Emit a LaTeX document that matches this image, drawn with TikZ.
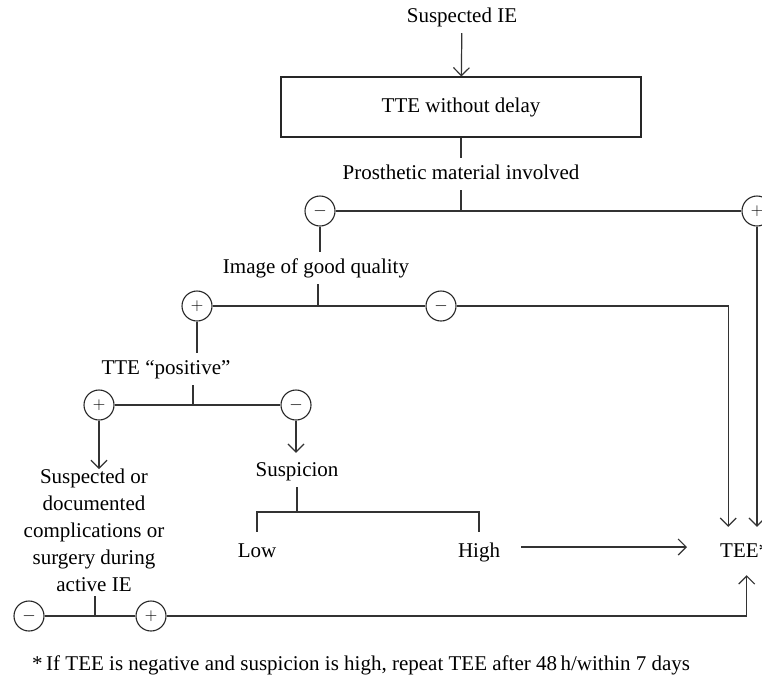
\documentclass[tikz,border=0pt]{standalone}
\usepackage{fontspec}
\setmainfont{Liberation Serif}
\usetikzlibrary{arrows.meta}
\begin{document}
\begin{tikzpicture}[x=1pt,y=-1pt,
  txt/.style={font=\fontsize{21}{27}\selectfont, inner xsep=0pt, inner ysep=7pt, text height=14pt, text depth=4pt},
  ln/.style={draw=black!80, line width=1.2pt},
  arr/.style={ln, -{Straight Barb[length=8pt,width=16pt]}},
  sgn/.style={circle, draw=black!85, line width=1.1pt, minimum size=30pt, inner sep=0pt, font=\fontsize{18}{18}\selectfont}]
\useasboundingbox (0,0) rectangle (762,678);

% nodes
\node[txt] (susp) at (462,17) {Suspected IE};
\node[txt, draw=black!85, line width=1.1pt, minimum width=360pt, minimum height=60pt, inner ysep=0pt] (box) at (461,107) {TTE without delay};
\node[txt] (prost) at (461,174) {Prosthetic material involved};
\node[sgn] (pm1) at (320,211) {$-$};
\node[sgn] (pp1) at (757,211) {$+$};
\node[txt] (img) at (316,268) {Image of good quality};
\node[sgn] (ip) at (197,306) {$+$};
\node[sgn] (im) at (441,306) {$-$};
\node[txt] (pos) at (166,369) {TTE “positive”};
\node[sgn] (tp) at (99,405) {$+$};
\node[sgn] (tm) at (296,405) {$-$};
\node[font=\fontsize{21}{27}\selectfont, align=center, inner sep=0pt, anchor=north] (compl) at (94,469)
  {Suspected or\\documented\\complications or\\surgery during\\active IE};
\node[txt] (suspn) at (297,471) {Suspicion};
\node[txt, inner ysep=11pt] (low) at (257,552) {Low};
\node[txt, inner ysep=11pt] (high) at (479,552) {High};
\node[txt, anchor=west] (tee) at (720,552) {TEE*};
\node[sgn] (bm) at (29,616) {$-$};
\node[sgn] (bp) at (151,616) {$+$};
\node[txt, anchor=west] (fn) at (32,665) {*\,If TEE is negative and suspicion is high, repeat TEE after 48\,h/within 7 days};

\coordinate (j1) at (461,211);
\coordinate (j2) at (318,306);
\coordinate (j3) at (193,405);
\coordinate (j4) at (297,512);
\coordinate (j5) at (95,616);

% connectors
\draw[arr] (susp) -- (box);
\draw[ln] (box) -- (prost);
\draw[ln] (prost.south) -- (j1);
\draw[ln] (pm1) -- (pp1);
\draw[ln] (pm1) -- (pm1 |- img.north);
\draw[ln] (img.south -| j2) -- (j2);
\draw[ln] (ip) -- (im);
\draw[arr, shorten >=9pt] (im) -| ([xshift=-16.5pt]tee.north);
\draw[arr, shorten >=9pt] (pp1) -- (pp1 |- tee.north);
\draw[ln] (ip) -- (ip |- pos.north);
\draw[ln] (pos.south -| j3) -- (j3);
\draw[ln] (tp) -- (tm);
\draw[arr] (tp) -- (tp |- compl.north);
\draw[arr, shorten >=2pt] (tm) -- (tm |- suspn.north);
\draw[ln] (suspn) -- (j4);
\draw[ln] (low.north) -- (low.north |- j4) -- (high.north |- j4) -- (high.north);
\draw[arr, shorten <=21pt, shorten >=33pt] ([yshift=5pt]high.east) -- ([yshift=5pt]tee.west);
\draw[ln] (bm) -- (bp);
\draw[ln, shorten <=4pt] (compl.south -| j5) -- (j5);
\draw[arr, shorten >=7pt] (bp) -| ([xshift=2pt]tee.south);
\end{tikzpicture}
\end{document}
